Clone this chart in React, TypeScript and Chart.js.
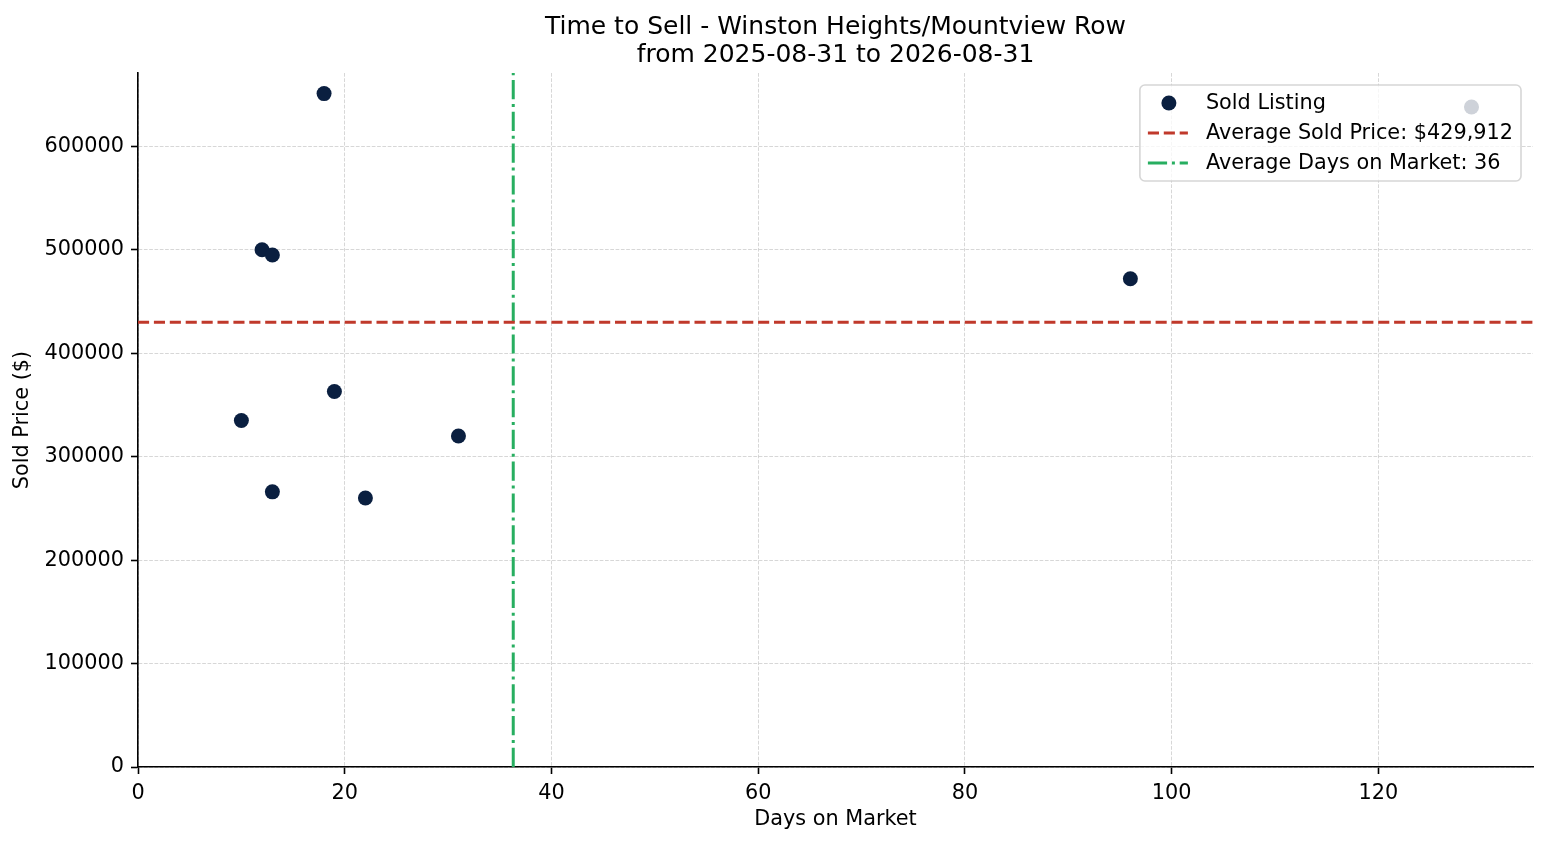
import { useEffect, useRef } from 'react';
import { Chart, registerables } from 'chart.js';

Chart.register(...registerables);

// values
const daysOnMarket = [10, 12, 13, 13, 18, 19, 22, 31, 96, 129];
const soldPrices = [335000, 500000, 495000, 266000, 651000, 363000, 260000, 320000, 472000, 638000];
const avgSoldPrice = 429912;
const avgDaysOnMarket = 36.3;
const xTicks = [0, 20, 40, 60, 80, 100, 120];
const yTicks = [0, 100000, 200000, 300000, 400000, 500000, 600000];
const titleLines = ['Time to Sell - Winston Heights/Mountview Row', 'from 2025-08-31 to 2026-08-31'];
const legendLabels = [
  'Sold Listing',
  `Average Sold Price: $${avgSoldPrice.toLocaleString('en-US')}`,
  `Average Days on Market: ${Math.round(avgDaysOnMarket)}`,
];

const X_MAX = 134.95;
const Y_MAX = 670900;
const NAVY = '#0a1f40';
const RED = '#c0392b';
const GREEN = '#27ae60';
const FONT = 'DejaVu Sans';
const LABEL_SIZE = 20.8;
const RED_DASH = [11.1, 4.8];
const GREEN_DASH = [19.2, 4.8, 3, 4.8];

// title, axis titles and the in-plot legend, drawn the matplotlib way
const decorPlugin = {
  id: 'decor',
  afterDraw(chart: Chart) {
    const { ctx, chartArea: a } = chart;
    const cx = (a.left + a.right) / 2;
    ctx.save();
    ctx.fillStyle = '#000';
    ctx.textAlign = 'center';
    ctx.textBaseline = 'middle';
    ctx.font = `25px "${FONT}"`;
    ctx.fillText(titleLines[0], cx, 27);
    ctx.fillText(titleLines[1], cx, 55);

    ctx.font = `${LABEL_SIZE}px "${FONT}"`;
    ctx.fillText('Days on Market', cx, 820);
    ctx.save();
    ctx.translate(23, (a.top + a.bottom) / 2);
    ctx.rotate(-Math.PI / 2);
    ctx.fillText('Sold Price ($)', 0, 0);
    ctx.restore();

    // legend box
    const textW = Math.max(...legendLabels.map((t) => ctx.measureText(t).width));
    const w = 66 + textW + 8;
    const h = 96;
    const right = a.right - 12;
    const top = a.top + 12;
    const left = right - w;
    ctx.beginPath();
    ctx.roundRect(left, top, w, h, 5);
    ctx.fillStyle = 'rgba(255,255,255,0.8)';
    ctx.fill();
    ctx.strokeStyle = 'rgba(204,204,204,0.8)';
    ctx.lineWidth = 1.6;
    ctx.stroke();

    const rows = [top + 18, top + 48, top + 78];
    ctx.fillStyle = NAVY;
    ctx.beginPath();
    ctx.arc(left + 29, rows[0], 7.5, 0, Math.PI * 2);
    ctx.fill();

    ctx.lineWidth = 3;
    ctx.strokeStyle = RED;
    ctx.setLineDash(RED_DASH);
    ctx.beginPath();
    ctx.moveTo(left + 8, rows[1]);
    ctx.lineTo(left + 48, rows[1]);
    ctx.stroke();

    ctx.strokeStyle = GREEN;
    ctx.setLineDash(GREEN_DASH);
    ctx.beginPath();
    ctx.moveTo(left + 8, rows[2]);
    ctx.lineTo(left + 48, rows[2]);
    ctx.stroke();
    ctx.setLineDash([]);

    ctx.fillStyle = '#000';
    ctx.textAlign = 'left';
    legendLabels.forEach((t, i) => ctx.fillText(t, left + 66, rows[i] + 1));
    ctx.restore();
  },
};

export default function App() {
  const chartRef = useRef<HTMLCanvasElement>(null);
  const chartInstance = useRef<Chart | null>(null);

  useEffect(() => {
    document.body.style.margin = '0';
    if (!chartRef.current) return;
    const ctx = chartRef.current.getContext('2d');
    if (!ctx) return;
    if (chartInstance.current) chartInstance.current.destroy();

    const axisCommon = {
      grid: {
        color: 'rgba(176,176,176,0.5)',
        lineWidth: 1,
        drawTicks: true,
        tickLength: 7,
        tickColor: '#000',
        tickWidth: 1.6,
      },
      border: { display: true, color: '#000', width: 1.6, dash: [3.7, 1.6] },
      ticks: {
        color: '#000',
        font: { family: FONT, size: LABEL_SIZE },
        padding: 7,
        maxRotation: 0,
        autoSkip: false,
        callback: (v: number | string) => String(v),
      },
    };

    chartInstance.current = new Chart(ctx, {
      type: 'scatter',
      data: {
        datasets: [
          {
            label: legendLabels[0],
            data: daysOnMarket.map((x, i) => ({ x, y: soldPrices[i] })),
            backgroundColor: NAVY,
            borderColor: NAVY,
            borderWidth: 0,
            pointRadius: 7.5,
          },
          {
            label: legendLabels[1],
            data: [
              { x: 0, y: avgSoldPrice },
              { x: X_MAX, y: avgSoldPrice },
            ],
            showLine: true,
            borderColor: RED,
            borderWidth: 3,
            borderDash: RED_DASH,
            pointRadius: 0,
          },
          {
            label: legendLabels[2],
            data: [
              { x: avgDaysOnMarket, y: 0 },
              { x: avgDaysOnMarket, y: Y_MAX },
            ],
            showLine: true,
            borderColor: GREEN,
            borderWidth: 3,
            borderDash: GREEN_DASH,
            pointRadius: 0,
          },
        ],
      },
      options: {
        responsive: false,
        animation: false,
        events: [],
        layout: { padding: { top: 73, right: 14, left: 0, bottom: 0 } },
        plugins: {
          legend: { display: false },
          title: { display: false },
          tooltip: { enabled: false },
        },
        scales: {
          x: {
            type: 'linear',
            min: 0,
            max: X_MAX,
            afterBuildTicks: (s: any) => {
              s.ticks = xTicks.map((value) => ({ value }));
            },
            afterFit: (s: any) => {
              s.height = 78;
            },
            ...axisCommon,
          },
          y: {
            type: 'linear',
            min: 0,
            max: Y_MAX,
            afterBuildTicks: (s: any) => {
              s.ticks = yTicks.map((value) => ({ value }));
            },
            afterFit: (s: any) => {
              s.width = 138;
            },
            ...axisCommon,
          },
        },
      },
      plugins: [decorPlugin],
    });

    return () => {
      if (chartInstance.current) {
        chartInstance.current.destroy();
        chartInstance.current = null;
      }
    };
  }, []);

  return (
    <div style={{ width: 1547, height: 845 }}>
      <canvas ref={chartRef} width={1547} height={845} style={{ display: 'block' }} />
    </div>
  );
}
